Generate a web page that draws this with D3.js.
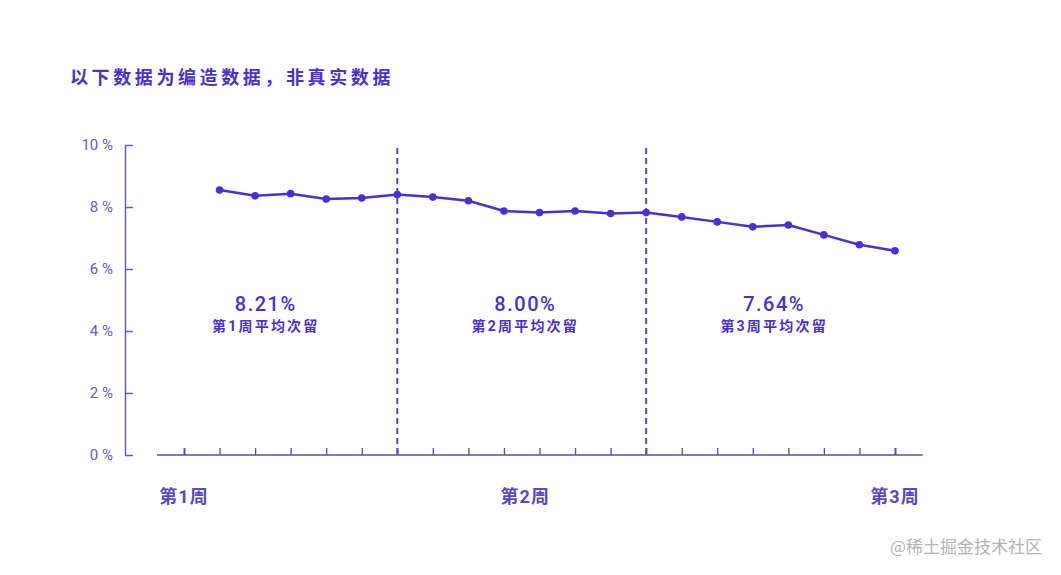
<!DOCTYPE html>
<html>
<head>
<meta charset="utf-8">
<script src="https://cdn.jsdelivr.net/npm/d3@7"></script>
<style>
  body { margin: 0; background: #fff; }
  svg { display: block; font-family: Roboto, "Noto Sans CJK SC", sans-serif; }
</style>
</head>
<body>
<div id="chart"></div>
<script>
// made-up daily next-day retention (%), days 1..20
const days = [1, 2, 3, 4, 5, 6, 7, 8, 9, 10, 11, 12, 13, 14, 15, 16, 17, 18, 19, 20];
const retention = [8.55, 8.36, 8.43, 8.26, 8.29, 8.40, 8.32, 8.20, 7.87, 7.82,
                   7.87, 7.79, 7.82, 7.68, 7.52, 7.36, 7.42, 7.10, 6.78, 6.59];
const tickDays = [0, 1, 2, 3, 4, 5, 6, 7, 8, 9, 10, 11, 12, 13, 14, 15, 16, 17, 18, 19, 20];
const yTicks = [0, 2, 4, 6, 8, 10];
const dividerDays = [6, 13];
const weekLabels = ["第1周", "第2周", "第3周"];
const weekLabelDays = [0, 9.6, 20];
const weekAverages = ["8.21%", "8.00%", "7.64%"];
const averageNames = ["第1周平均次留", "第2周平均次留", "第3周平均次留"];
const averageDays = [2.3, 9.6, 16.6];

const width = 1061, height = 575;
const main = "#4a2fd6", soft = "#6a58d4";

const svg = d3.select("#chart").append("svg")
  .attr("width", width)
  .attr("height", height)
  .attr("viewBox", `0 0 ${width} ${height}`);

svg.append("rect").attr("width", width).attr("height", height).attr("fill", "#fff");

const x = d3.scaleLinear().domain([0, 20]).range([184, 895]);
const y = d3.scaleLinear().domain([0, 10]).range([455, 145]);

// title
svg.append("text")
  .attr("x", 70).attr("y", 84)
  .attr("fill", main)
  .attr("font-size", 18)
  .attr("font-weight", 700)
  .attr("letter-spacing", 3.6)
  .attr("font-family", "'Noto Sans CJK SC', sans-serif")
  .text("以下数据为编造数据，非真实数据");

// y axis
const yAxis = svg.append("g")
  .attr("transform", "translate(125,0)")
  .call(d3.axisLeft(y).tickValues(yTicks).tickSizeInner(-8).tickSizeOuter(0).tickPadding(12)
    .tickFormat(d => d + " %"));
yAxis.select(".domain").attr("stroke", soft).attr("stroke-width", 1.5);
yAxis.selectAll(".tick line").attr("stroke", soft).attr("stroke-width", 1.5);
yAxis.selectAll(".tick text").attr("fill", soft).attr("font-size", 15)
  .attr("font-family", "Roboto, sans-serif");

// x axis
const xAxis = svg.append("g")
  .attr("transform", `translate(0,${y(0)})`)
  .call(d3.axisBottom(x).tickValues(tickDays).tickSizeInner(-7).tickSizeOuter(0).tickFormat(""));
xAxis.select(".domain").attr("stroke", "#5a44cc").attr("stroke-width", 1.5)
  .attr("d", `M${x(-0.76)},0H${x(20.78)}`);
xAxis.selectAll(".tick line").attr("stroke", "#5a44cc")
  .attr("stroke-width", d => (d === 0 || d === 20) ? 2 : 1.3);

// week dividers
svg.append("g").selectAll("line")
  .data(dividerDays)
  .join("line")
  .attr("x1", d => x(d)).attr("x2", d => x(d))
  .attr("y1", y(9.9)).attr("y2", y(0))
  .attr("stroke", "#5b46d2")
  .attr("stroke-width", 2)
  .attr("stroke-dasharray", "6,4");

// week labels under the axis
svg.append("g").selectAll("text")
  .data(weekLabels)
  .join("text")
  .attr("x", (d, i) => x(weekLabelDays[i]))
  .attr("y", 503)
  .attr("text-anchor", "middle")
  .attr("fill", "#5b45cf")
  .attr("font-size", 18)
  .attr("font-weight", 700)
  .attr("letter-spacing", 1)
  .text(d => d);

// weekly averages
const avg = svg.append("g").selectAll("g")
  .data(weekAverages)
  .join("g")
  .attr("transform", (d, i) => `translate(${x(averageDays[i])},0)`);
avg.append("text")
  .attr("y", 311)
  .attr("text-anchor", "middle")
  .attr("fill", main)
  .attr("font-size", 20)
  .attr("font-weight", 500)
  .attr("letter-spacing", 1.5)
  .text(d => d);
avg.append("text")
  .attr("y", 331)
  .attr("text-anchor", "middle")
  .attr("fill", main)
  .attr("font-size", 14)
  .attr("font-weight", 700)
  .attr("letter-spacing", 2.2)
  .text((d, i) => averageNames[i]);

// retention line
const line = d3.line()
  .x((d, i) => x(days[i]))
  .y(d => y(d));

svg.append("path")
  .datum(retention)
  .attr("d", line)
  .attr("fill", "none")
  .attr("stroke", main)
  .attr("stroke-width", 2.5)
  .attr("stroke-linejoin", "round");

svg.append("g").selectAll("circle")
  .data(retention)
  .join("circle")
  .attr("cx", (d, i) => x(days[i]))
  .attr("cy", d => y(d))
  .attr("r", 3.8)
  .attr("fill", main);

// watermark
svg.append("text")
  .attr("x", 1042).attr("y", 553)
  .attr("text-anchor", "end")
  .attr("fill", "#b4b4b4")
  .attr("font-size", 17)
  .attr("font-family", "'Noto Sans CJK SC', sans-serif")
  .text("@稀土掘金技术社区");
</script>
</body>
</html>
